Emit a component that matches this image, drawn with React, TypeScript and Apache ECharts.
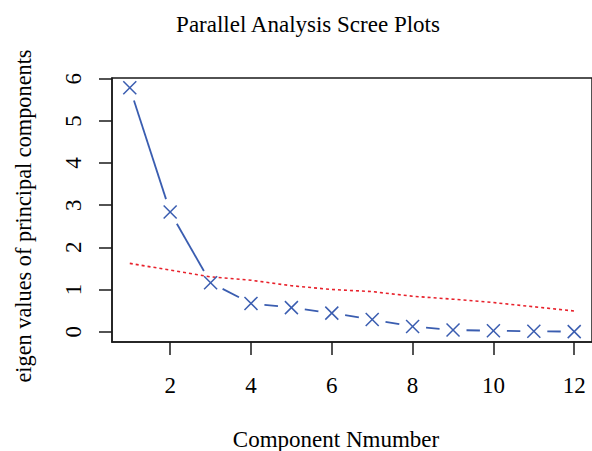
import React, { useEffect, useRef } from "react";
import * as echarts from "echarts";

const components = [1, 2, 3, 4, 5, 6, 7, 8, 9, 10, 11, 12];
const actualEigen = [5.79, 2.84, 1.16, 0.67, 0.57, 0.44, 0.29, 0.12, 0.04, 0.02, 0.01, 0.0];
const simulatedEigen = [1.62, 1.46, 1.3, 1.22, 1.09, 1.0, 0.95, 0.84, 0.77, 0.69, 0.59, 0.49];
const xTicks = [2, 4, 6, 8, 10, 12];
const yTicks = [0, 1, 2, 3, 4, 5, 6];

const titleText = "Parallel Analysis Scree Plots";
const xTitle = "Component Nmumber";
const yTitle = "eigen values of principal components";

const FONT = "Liberation Serif";
const BLUE = "#3A5DB0";
const RED = "#E8222C";

export default function App() {
  const ref = useRef<HTMLDivElement>(null);
  useEffect(() => {
    if (!ref.current) return;
    const chart = echarts.init(ref.current, null, { renderer: "svg" });
    const n = components.length;
    const gap = 13.5;
    const half = 6.5;
    const labelStyle = {
      fontFamily: FONT,
      fontSize: 23,
      color: "#000",
      fontWeight: "normal" as const,
    };
    chart.setOption({
      animation: false,
      backgroundColor: "#ffffff",
      textStyle: { fontFamily: FONT, color: "#000" },
      grid: {
        left: 112,
        top: 78,
        width: 485,
        height: 264,
        show: true,
        borderColor: "#1a1a1a",
        borderWidth: 1.5,
        backgroundColor: "transparent",
      },
      xAxis: {
        type: "value",
        min: 0.56,
        max: 12.44,
        splitLine: { show: false },
        axisLine: { show: true, onZero: false, lineStyle: { color: "#1a1a1a", width: 1.5 } },
        axisTick: { show: true, length: 13, customValues: xTicks, lineStyle: { color: "#1a1a1a", width: 1.5 } },
        axisLabel: {
          customValues: xTicks,
          margin: 32,
          ...labelStyle,
        },
      },
      yAxis: {
        type: "value",
        min: -0.246,
        max: 6.02,
        splitLine: { show: false },
        axisLine: { show: true, onZero: false, lineStyle: { color: "#1a1a1a", width: 1.5 } },
        axisTick: { show: true, length: 13, customValues: yTicks, lineStyle: { color: "#1a1a1a", width: 1.5 } },
        axisLabel: {
          customValues: yTicks,
          rotate: 90,
          margin: 27,
          ...labelStyle,
        },
      },
      graphic: [
        {
          type: "text",
          x: 308,
          y: 24,
          style: {
            text: titleText,
            fontFamily: FONT,
            fontSize: 23,
            fill: "#000",
            align: "center",
            verticalAlign: "middle",
          },
        },
        {
          type: "text",
          x: 336,
          y: 439,
          style: {
            text: xTitle,
            fontFamily: FONT,
            fontSize: 23,
            fill: "#000",
            align: "center",
            verticalAlign: "middle",
          },
        },
        {
          type: "text",
          x: 23,
          y: 216,
          rotation: Math.PI / 2,
          style: {
            text: yTitle,
            fontFamily: FONT,
            fontSize: 22.3,
            fill: "#000",
            align: "center",
            verticalAlign: "middle",
          },
        },
      ],
      series: [
        {
          type: "line",
          name: "Simulated",
          data: components.map((c, i) => [c, simulatedEigen[i]]),
          symbol: "none",
          lineStyle: { color: RED, width: 1.6, type: [3, 3] },
          z: 2,
        },
        {
          type: "custom",
          name: "Actual",
          data: components.map((c, i) => [c, actualEigen[i]]),
          z: 3,
          renderItem: (params: any, api: any) => {
            const i = params.dataIndex;
            const p = api.coord([api.value(0), api.value(1)]);
            const style = { stroke: BLUE, lineWidth: 1.5, fill: "none" };
            const children: any[] = [
              { type: "line", shape: { x1: p[0] - half, y1: p[1] - half, x2: p[0] + half, y2: p[1] + half }, style },
              { type: "line", shape: { x1: p[0] - half, y1: p[1] + half, x2: p[0] + half, y2: p[1] - half }, style },
            ];
            if (i < n - 1) {
              const q = api.coord([components[i + 1], actualEigen[i + 1]]);
              const dx = q[0] - p[0];
              const dy = q[1] - p[1];
              const len = Math.sqrt(dx * dx + dy * dy);
              if (len > 2 * gap) {
                const ux = dx / len;
                const uy = dy / len;
                children.push({
                  type: "line",
                  shape: {
                    x1: p[0] + ux * gap,
                    y1: p[1] + uy * gap,
                    x2: q[0] - ux * gap,
                    y2: q[1] - uy * gap,
                  },
                  style: { stroke: BLUE, lineWidth: 1.8 },
                });
              }
            }
            return { type: "group", children };
          },
        },
      ],
    });
    return () => chart.dispose();
  }, []);
  return (
    <div
      ref={ref}
      style={{ position: "fixed", left: 0, top: 0, width: 592, height: 451, background: "#fff" }}
    />
  );
}
